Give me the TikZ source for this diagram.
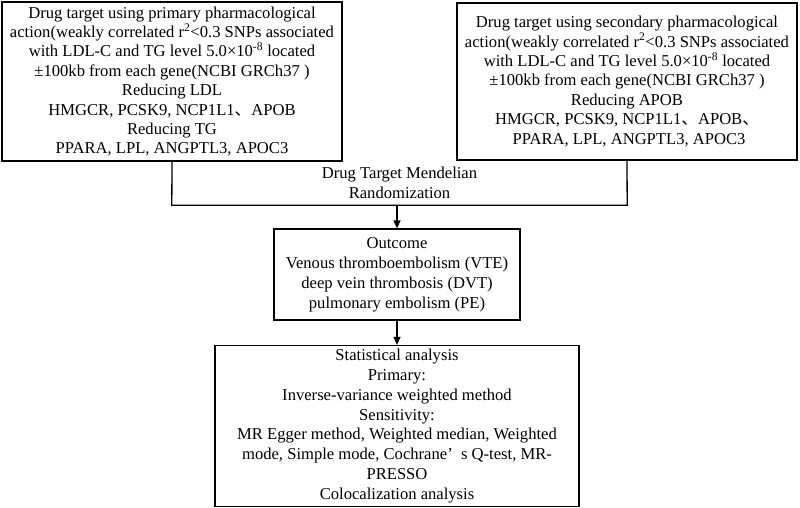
\documentclass[tikz,border=0pt]{standalone}
\usepackage{fontspec}
\setmainfont{Liberation Serif}
\newfontfamily\cjk{Noto Sans CJK SC}
\usetikzlibrary{arrows.meta}
\tikzset{
  box/.style={draw, line width=1.3pt, align=center, inner sep=0pt, anchor=center},
  flow/.style={line width=1.3pt, -{Triangle[length=8pt,width=7pt]}},
  link/.style={line width=1.3pt},
}
\newcommand{\dcomma}{{\cjk 、}}
\begin{document}
\begin{tikzpicture}[x=1pt,y=-1pt]
\useasboundingbox (0,0) rectangle (800,508);
\node[box, minimum width=340pt, minimum height=159pt, font=\fontsize{16.6}{19.4}\selectfont] (left) at (172,81.5) {Drug target using primary pharmacological\\action(weakly correlated r\textsuperscript{2}<0.3 SNPs associated\\with LDL-C and TG level 5.0×10\textsuperscript{-8} located\\±100kb from each gene(NCBI GRCh37 )\\Reducing LDL\\HMGCR, PCSK9, NCP1L1\dcomma APOB\\Reducing TG\\PPARA, LPL, ANGPTL3, APOC3};
\node[box, minimum width=340pt, minimum height=157pt, font=\fontsize{16.6}{19.4}\selectfont] (right) at (627,81.5) {Drug target using secondary pharmacological\\action(weakly correlated r\textsuperscript{2}<0.3 SNPs associated\\with LDL-C and TG level 5.0×10\textsuperscript{-8} located\\±100kb from each gene(NCBI GRCh37 )\\Reducing APOB\\HMGCR, PCSK9, NCP1L1\dcomma APOB\dcomma\\\ PPARA, LPL, ANGPTL3, APOC3};
\node[align=center, inner sep=0pt, minimum width=455pt, minimum height=44pt, font=\fontsize{16.6}{20}\selectfont] (mr) at (399.5,183) {Drug Target Mendelian\\Randomization};
\draw[link] (left.south) -- (mr.south west) -- (mr.south east) -- (right.south);
\node[box, minimum width=246pt, minimum height=91pt, font=\fontsize{16.6}{20}\selectfont] (out) at (397,274.5) {Outcome\\Venous thromboembolism (VTE)\\deep vein thrombosis (DVT)\\pulmonary embolism (PE)};
\node[box, minimum width=364pt, minimum height=161pt, font=\fontsize{16.6}{19.8}\selectfont] (stat) at (397,426) {Statistical analysis\\Primary:\\Inverse-variance weighted method\\Sensitivity:\\MR Egger method, Weighted median, Weighted\\mode, Simple mode, Cochrane’\enspace s Q-test, MR-\\PRESSO\\Colocalization analysis};
\draw[flow] (mr.south -| out.north) -- (out.north);
\draw[flow] (out.south) -- (stat.north);
\end{tikzpicture}
\end{document}
